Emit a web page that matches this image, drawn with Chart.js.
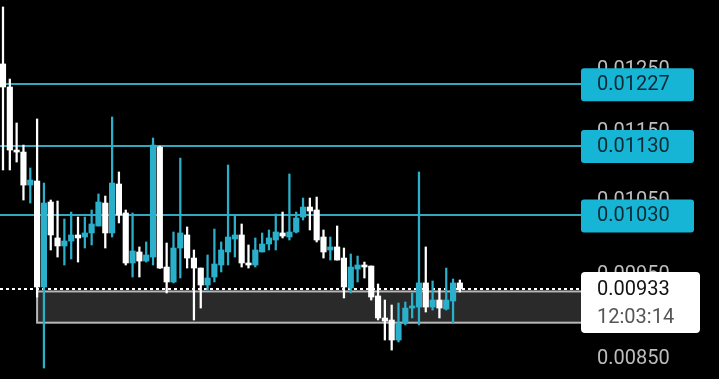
<!DOCTYPE html>
<html>
<head>
<meta charset="utf-8">
<script src="https://cdn.jsdelivr.net/npm/chart.js@4/dist/chart.umd.min.js"></script>
<style>
  html, body { margin: 0; padding: 0; background: #000; }
  #wrap { width: 719px; height: 379px; position: relative; }
</style>
</head>
<body>
<div id="wrap"><canvas id="chart"></canvas></div>
<script>
// candle data (oldest first)
const opens = [
  0.012600, 0.012218, 0.011232, 0.011202, 0.010719, 0.010777, 0.009355, 0.010479, 0.009988, 0.009882,
  0.009948, 0.010028, 0.010001, 0.010055, 0.010149, 0.010465, 0.010055, 0.010734, 0.010327, 0.009660,
  0.009803, 0.009685, 0.009737, 0.011277, 0.009608, 0.009418, 0.009855, 0.010028, 0.009724, 0.009595,
  0.009380, 0.009481, 0.009634, 0.009803, 0.009975, 0.010028, 0.009660, 0.009634, 0.009803, 0.009908,
  0.009961, 0.010055, 0.010001, 0.010068, 0.010271, 0.010409, 0.010368, 0.010001, 0.009829, 0.009869,
  0.009724, 0.009343, 0.009582, 0.009634, 0.009621, 0.009244, 0.008976, 0.008952, 0.008716, 0.008916,
  0.009096, 0.009108, 0.009406, 0.009108, 0.009194, 0.009084, 0.009182, 0.009406
];
const highs = [
  0.013596, 0.012349, 0.011645, 0.011307, 0.010966, 0.011708, 0.010748, 0.010507, 0.010493, 0.010244,
  0.010340, 0.010271, 0.010271, 0.010368, 0.010592, 0.010563, 0.011739, 0.010908, 0.010368, 0.010327,
  0.009869, 0.009935, 0.011414, 0.011292, 0.009921, 0.010068, 0.011112, 0.010136, 0.009829, 0.009595,
  0.009764, 0.010108, 0.009935, 0.011010, 0.010299, 0.010176, 0.009895, 0.009988, 0.010055, 0.010095,
  0.010313, 0.010340, 0.010879, 0.010340, 0.010535, 0.010535, 0.010549, 0.010095, 0.010001, 0.010149,
  0.009855, 0.009777, 0.009750, 0.009672, 0.009621, 0.009393, 0.009194, 0.009133, 0.009157, 0.009170,
  0.009281, 0.010908, 0.009869, 0.009431, 0.009330, 0.009595, 0.009456, 0.009443
];
const lows = [
  0.010937, 0.010937, 0.011054, 0.010507, 0.010465, 0.009231, 0.008396, 0.009829, 0.009737, 0.009634,
  0.009711, 0.009672, 0.009855, 0.009895, 0.010149, 0.009855, 0.010001, 0.010190, 0.009634, 0.009481,
  0.009481, 0.009672, 0.009634, 0.009590, 0.009281, 0.009406, 0.009468, 0.009595, 0.008952, 0.009096,
  0.009318, 0.009418, 0.009545, 0.009634, 0.009737, 0.009608, 0.009595, 0.009608, 0.009803, 0.009829,
  0.009829, 0.009988, 0.009961, 0.010055, 0.010230, 0.010095, 0.009935, 0.009724, 0.009698, 0.009698,
  0.009219, 0.009281, 0.009418, 0.009468, 0.009194, 0.008952, 0.008716, 0.008600, 0.008693, 0.008893,
  0.008976, 0.008893, 0.009048, 0.009072, 0.008976, 0.009072, 0.008916, 0.009293
];
const closes = [
  0.012218, 0.011232, 0.011202, 0.010719, 0.010791, 0.009355, 0.010465, 0.010028, 0.009882, 0.009948,
  0.010028, 0.009988, 0.010055, 0.010176, 0.010479, 0.010055, 0.010748, 0.010299, 0.009660, 0.009816,
  0.009685, 0.009764, 0.011307, 0.009595, 0.009418, 0.009855, 0.010055, 0.009724, 0.009595, 0.009380,
  0.009468, 0.009647, 0.009829, 0.010001, 0.010028, 0.009660, 0.009634, 0.009829, 0.009908, 0.009988,
  0.010068, 0.010014, 0.010068, 0.010258, 0.010409, 0.010354, 0.009961, 0.009803, 0.009869, 0.009698,
  0.009355, 0.009608, 0.009634, 0.009608, 0.009231, 0.008976, 0.008940, 0.008716, 0.008916, 0.009096,
  0.009121, 0.009406, 0.009108, 0.009194, 0.009096, 0.009194, 0.009406, 0.009330
];

const priceTicks = [0.0125, 0.0115, 0.0105, 0.0095, 0.0085];
const levels = [0.01227, 0.01130, 0.01030];
const zone = [0.00892, 0.00930];   // grey box, low / high
const zoneStart = 5;               // candle index where the box starts
const timer = '12:03:14';

const UP = '#2bb0cb';
const DOWN = '#ffffff';
const LINE = '#33a7bf';
const TAG = '#16b5d5';
const FONT = '20px Roboto, "Noto Sans", sans-serif';

const candleColors = closes.map((c, i) => (c < opens[i] ? DOWN : UP));
const wickData = lows.map((l, i) => ({ x: i, y: [l, highs[i]] }));
const bodyData = opens.map((o, i) => ({ x: i, y: [Math.min(o, closes[i]), Math.max(o, closes[i])] }));

function roundRect(ctx, x, y, w, h, r) {
  ctx.beginPath();
  ctx.moveTo(x + r, y);
  ctx.arcTo(x + w, y, x + w, y + h, r);
  ctx.arcTo(x + w, y + h, x, y + h, r);
  ctx.arcTo(x, y + h, x, y, r);
  ctx.arcTo(x, y, x + w, y, r);
  ctx.closePath();
}

const overlay = {
  id: 'overlay',
  beforeDatasetsDraw(chart) {
    const { ctx } = chart;
    const xs = chart.scales.x;
    const ys = chart.scales.y;
    const right = 581;
    ctx.save();

    // grey zone
    const zx = xs.getPixelForValue(zoneStart);
    const zTop = ys.getPixelForValue(zone[1]);
    const zBot = ys.getPixelForValue(zone[0]);
    ctx.fillStyle = '#2a2a2a';
    ctx.fillRect(zx, zTop, right - zx, zBot - zTop);
    ctx.strokeStyle = '#b8b8b8';
    ctx.lineWidth = 2;
    ctx.strokeRect(zx, zTop, right - zx + 4, zBot - zTop);

    // level lines
    ctx.strokeStyle = LINE;
    ctx.lineWidth = 2;
    levels.forEach((v) => {
      const y = Math.round(ys.getPixelForValue(v));
      ctx.beginPath();
      ctx.moveTo(0, y);
      ctx.lineTo(right, y);
      ctx.stroke();
    });

    // last price dotted line
    const py = Math.round(ys.getPixelForValue(closes[closes.length - 1]));
    ctx.strokeStyle = '#ffffff';
    ctx.setLineDash([3, 3]);
    ctx.beginPath();
    ctx.moveTo(0, py);
    ctx.lineTo(right, py);
    ctx.stroke();
    ctx.restore();
  },
  afterDatasetsDraw(chart) {
    const { ctx } = chart;
    const ys = chart.scales.y;
    const tx = 597;
    ctx.save();
    ctx.font = FONT;
    ctx.textBaseline = 'middle';
    ctx.textAlign = 'left';

    // price axis labels
    ctx.fillStyle = '#bdbdbd';
    priceTicks.forEach((v) => {
      ctx.fillText(v.toFixed(5), tx, ys.getPixelForValue(v));
    });

    // level tags
    levels.forEach((v) => {
      const y = ys.getPixelForValue(v);
      ctx.fillStyle = TAG;
      roundRect(ctx, 581, y - 15.5, 113, 33, 3);
      ctx.fill();
      ctx.fillStyle = '#0c2a33';
      ctx.fillText(v.toFixed(5), tx, y + 1.5);
    });

    // last price tag
    const last = closes[closes.length - 1];
    const py = ys.getPixelForValue(last);
    ctx.fillStyle = '#ffffff';
    roundRect(ctx, 581, py - 17, 119, 61, 4);
    ctx.fill();
    ctx.fillStyle = '#111111';
    ctx.fillText(last.toFixed(5), tx, py + 1);
    ctx.fillStyle = '#555555';
    ctx.fillText(timer, tx, py + 29);
    ctx.restore();
  }
};

new Chart(document.getElementById('chart'), {
  type: 'bar',
  data: {
    datasets: [
      {
        data: wickData,
        backgroundColor: candleColors,
        barThickness: 1.6,
        grouped: false,
        order: 2
      },
      {
        data: bodyData,
        backgroundColor: candleColors,
        barThickness: 5.5,
        minBarLength: 2,
        grouped: false,
        order: 1
      }
    ]
  },
  options: {
    responsive: true,
    maintainAspectRatio: false,
    animation: false,
    devicePixelRatio: 1,
    layout: { padding: 0 },
    plugins: { legend: { display: false }, tooltip: { enabled: false } },
    scales: {
      x: { type: 'linear', min: -0.44, max: 105, offset: false, bounds: 'data', display: false },
      y: { type: 'logarithmic', min: 0.008274, max: 0.013723, bounds: 'data', display: false }
    }
  },
  plugins: [overlay]
});
</script>
</body>
</html>
